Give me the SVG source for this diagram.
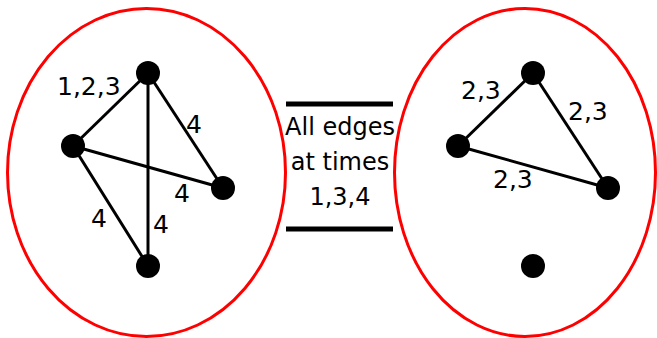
<svg xmlns="http://www.w3.org/2000/svg" width="657" height="338" viewBox="0 0 657 338">
<style>
.ell{fill:none;stroke:#ff0000;stroke-width:3}
.edge{stroke:#000;stroke-width:3;fill:none}
.node{fill:#000}
.lbl{font-family:"DejaVu Sans",Verdana,sans-serif;font-size:25px;fill:#000}
.mid{text-anchor:middle;font-size:24px}
.bar{stroke:#000;stroke-width:5}
</style>
<rect width="657" height="338" fill="#fff"/>
<ellipse class="ell" cx="146.5" cy="172.5" rx="139" ry="164"/>
<ellipse class="ell" cx="525" cy="172.5" rx="130.5" ry="164"/>
<g id="connectors">
<line class="edge" x1="73" y1="146" x2="148" y2="73"/>
<line class="edge" x1="148" y1="73" x2="148" y2="266"/>
<line class="edge" x1="148" y1="73" x2="223" y2="188"/>
<line class="edge" x1="73" y1="146" x2="223" y2="188"/>
<line class="edge" x1="73" y1="146" x2="148" y2="266"/>
<line class="edge" x1="458" y1="146" x2="533" y2="73"/>
<line class="edge" x1="533" y1="73" x2="608" y2="188"/>
<line class="edge" x1="458" y1="146" x2="608" y2="188"/>
</g>
<g id="L1"><circle class="node" cx="148" cy="73" r="12"/></g>
<g id="L2"><circle class="node" cx="73" cy="146" r="12"/></g>
<g id="L3"><circle class="node" cx="223" cy="188" r="12"/></g>
<g id="L4"><circle class="node" cx="148" cy="266" r="12"/></g>
<g id="R1"><circle class="node" cx="533" cy="73" r="12"/></g>
<g id="R2"><circle class="node" cx="458" cy="146" r="12"/></g>
<g id="R3"><circle class="node" cx="608" cy="188" r="12"/></g>
<g id="R4"><circle class="node" cx="533" cy="266" r="12"/></g>
<g id="labels">
<text class="lbl" x="57" y="95">1,2,3</text>
<text class="lbl" x="186" y="133">4</text>
<text class="lbl" x="174" y="202">4</text>
<text class="lbl" x="91" y="227">4</text>
<text class="lbl" x="153" y="233">4</text>
<text class="lbl" x="461" y="99">2,3</text>
<text class="lbl" x="568" y="120">2,3</text>
<text class="lbl" x="493" y="188">2,3</text>
</g>
<g id="middle">
<line class="bar" x1="286" y1="104" x2="393" y2="104"/>
<line class="bar" x1="286" y1="229" x2="393" y2="229"/>
<text class="lbl mid" x="340" y="135">All edges</text>
<text class="lbl mid" x="340" y="170">at times</text>
<text class="lbl mid" x="340" y="205">1,3,4</text>
</g>
</svg>
